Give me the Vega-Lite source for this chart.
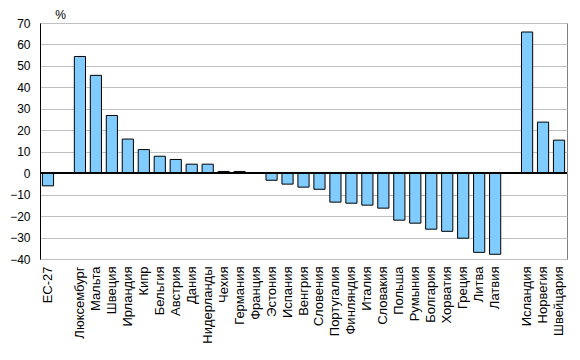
{
  "$schema": "https://vega.github.io/schema/vega-lite/v6.json",
  "width": 527,
  "height": 236,
  "autosize": "none",
  "padding": {"left": 40, "top": 23, "right": 13, "bottom": 101},
  "config": {
    "view": {"stroke": "#808080", "strokeWidth": 1},
    "font": "Liberation Sans",
    "axisY": {"tickCount": 11, "labelOverlap": false}
  },
  "data": {
    "values": [
      {"country": "ЕС-27", "value": -5.9},
      {"country": "Люксембург", "value": 54.4},
      {"country": "Мальта", "value": 45.6},
      {"country": "Швеция", "value": 26.9},
      {"country": "Ирландия", "value": 15.9},
      {"country": "Кипр", "value": 11.0},
      {"country": "Бельгия", "value": 7.9},
      {"country": "Австрия", "value": 6.4},
      {"country": "Дания", "value": 4.2},
      {"country": "Нидерланды", "value": 4.2},
      {"country": "Чехия", "value": 0.8},
      {"country": "Германия", "value": 0.8},
      {"country": "Франция", "value": 0.3},
      {"country": "Эстония", "value": -3.3},
      {"country": "Испания", "value": -5.1},
      {"country": "Венгрия", "value": -6.5},
      {"country": "Словения", "value": -7.5},
      {"country": "Португалия", "value": -13.5},
      {"country": "Финляндия", "value": -14.0},
      {"country": "Италия", "value": -14.9},
      {"country": "Словакия", "value": -16.3},
      {"country": "Польша", "value": -21.9},
      {"country": "Румыния", "value": -23.3},
      {"country": "Болгария", "value": -26.1},
      {"country": "Хорватия", "value": -27.1},
      {"country": "Греция", "value": -30.3},
      {"country": "Литва", "value": -36.9},
      {"country": "Латвия", "value": -37.8},
      {"country": "Исландия", "value": 65.8},
      {"country": "Норвегия", "value": 23.8},
      {"country": "Швейцария", "value": 15.4}
    ]
  },
  "encoding": {
    "y": {
      "field": "value",
      "type": "quantitative",
      "scale": {"domain": [-40, 70], "nice": false, "zero": false},
      "axis": {
        "title": "%",
        "titleAngle": 0,
        "titleX": 20,
        "titleY": -9,
        "titleAlign": "center",
        "titleBaseline": "middle",
        "titleFontSize": 12,
        "titleFontWeight": "normal",
        "titleColor": "#000000",
        "tickCount": 11,
        "labelOverlap": false,
        "labelFlush": false,
        "labelFontSize": 12,
        "labelColor": "#000000",
        "labelPadding": 10,
        "ticks": false,
        "domain": true,
        "domainColor": "#000000",
        "grid": true,
        "gridColor": "#c0c0c0",
        "gridWidth": 1
      }
    }
  },
  "layer": [
    {
      "mark": {"type": "bar", "fill": "#80ccff", "stroke": "#000000", "strokeWidth": 1},
      "encoding": {
        "x": {
          "field": "country",
          "type": "nominal",
          "scale": {
            "domain": ["ЕС-27", "_gap1", "Люксембург", "Мальта", "Швеция", "Ирландия", "Кипр", "Бельгия", "Австрия", "Дания", "Нидерланды", "Чехия", "Германия", "Франция", "Эстония", "Испания", "Венгрия", "Словения", "Португалия", "Финляндия", "Италия", "Словакия", "Польша", "Румыния", "Болгария", "Хорватия", "Греция", "Литва", "Латвия", "_gap2", "Исландия", "Норвегия", "Швейцария"],
            "paddingInner": 0.3,
            "paddingOuter": 0.15
          },
          "axis": {
            "title": null,
            "labelAngle": -90,
            "labelAlign": "right",
            "labelBaseline": "middle",
            "labelPadding": 7,
            "labelFontSize": 13,
            "labelColor": "#000000",
            "labelExpr": "indexof(datum.value, '_gap') == 0 ? '' : datum.value",
            "labelOverlap": false,
            "ticks": false,
            "domain": false,
            "grid": false
          }
        }
      }
    },
    {
      "mark": {"type": "rule", "color": "#000000", "strokeWidth": 1},
      "encoding": {"y": {"datum": 0}}
    }
  ]
}
